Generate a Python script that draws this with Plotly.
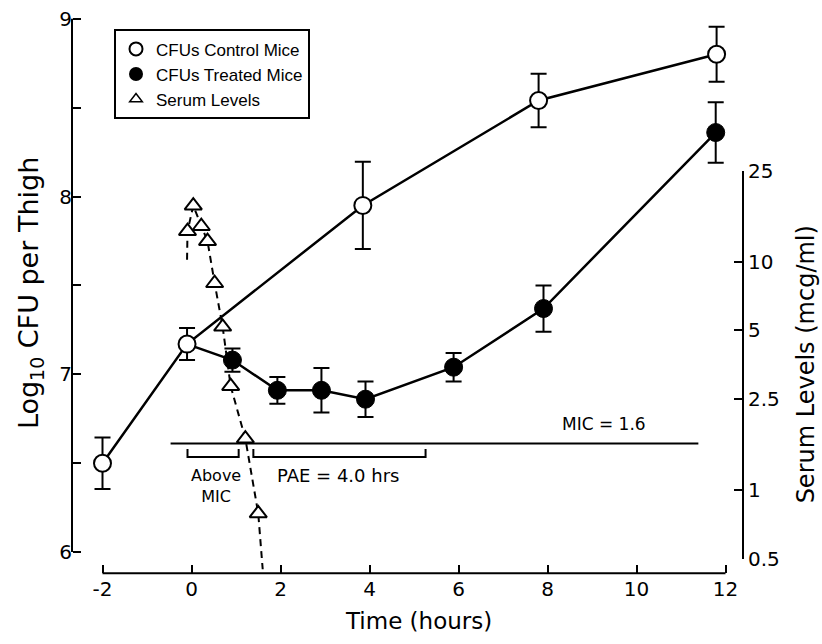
import math
import plotly.graph_objects as go

# ---------------- data ----------------
control_t = [-2, -0.1, 3.85, 7.8, 11.8]
control_cfu = [6.5, 7.17, 7.95, 8.54, 8.8]
control_err = [0.145, 0.09, 0.245, 0.15, 0.155]

# treated curve starts from the shared baseline point (t=-0.1)
treated_line_t = [-0.1, 0.92, 1.93, 2.92, 3.91, 5.89, 7.91, 11.78]
treated_line_cfu = [7.17, 7.08, 6.91, 6.91, 6.86, 7.04, 7.37, 8.36]
treated_t = [0.92, 1.93, 2.92, 3.91, 5.89, 7.91, 11.78]
treated_cfu = [7.08, 6.91, 6.91, 6.86, 7.04, 7.37, 8.36]
treated_err = [0.065, 0.075, 0.125, 0.1, 0.08, 0.13, 0.17]

serum_t = [-0.09, 0.04, 0.22, 0.36, 0.52, 0.70, 0.88, 1.21, 1.50]
serum_lvl = [13.6, 17.6, 14.3, 12.3, 8.05, 5.19, 2.85, 1.68, 0.79]
serum_fit_t = [-0.1, -0.09, 0.04, 0.22, 0.36, 0.52, 0.70, 0.88, 1.21, 1.50, 1.60]
serum_fit_lvl = [10.2, 13.6, 17.6, 14.3, 12.3, 8.05, 5.19, 2.85, 1.68, 0.79, 0.45]

mic_value = 1.6
mic_span_t = [-0.47, 11.39]
above_bracket_t = [-0.09, 1.06]
pae_bracket_t = [1.39, 5.26]
bracket_base = 6.535
bracket_tip = 6.58

x_ticks = [-2, 0, 2, 4, 6, 8, 10, 12]
x_tick_text = ["-2", "0", "2", "4", "6", "8", "10", "12"]
y_ticks = [6, 7, 8, 9]
y_tick_text = ["6", "7", "8", "9"]
y_minor_step = 0.5
serum_ticks = [0.5, 1, 2.5, 5, 10, 25]
serum_tick_text = ["0.5", "1", "2.5", "5", "10", "25"]

# ---------------- geometry (pixels) ----------------
W, H = 822, 644
X0PX, PXH = 191.5, 44.5            # pixel of t=0, pixels per hour
XR = [-2.6, 12.38]
Y9PX, Y6PX = 7.0, 561.0            # pixels of 9 and 6 on the left axis
PXU = (Y6PX - Y9PX) / 3.0
YR = [5.86, 9.035]
R_LO_PX, R_HI_PX = 568.0, 165.0    # right axis 0.5 .. 25
XAXIS_PX = 583.0
YAXIS_PX = 72.0
RAXIS_PX = 743.0

xdom = [(X0PX + PXH * XR[0]) / W, (X0PX + PXH * XR[1]) / W]
ybot_px = Y6PX - PXU * (YR[0] - 6)
ytop_px = Y6PX - PXU * (YR[1] - 6)
ydom = [1 - ybot_px / H, 1 - ytop_px / H]
lo, hi = math.log10(serum_ticks[0]), math.log10(serum_ticks[-1])
ppd = (R_LO_PX - R_HI_PX) / (hi - lo)
y2range = [lo - (ybot_px - R_LO_PX) / ppd, hi + (R_HI_PX - ytop_px) / ppd]

INK = "#000000"
FONT = "DejaVu Sans"

fig = go.Figure()

# treated line
fig.add_trace(go.Scatter(x=treated_line_t, y=treated_line_cfu, mode="lines",
                         line=dict(color=INK, width=2.5), showlegend=False, cliponaxis=False))
fig.add_trace(go.Scatter(x=treated_t, y=treated_cfu, mode="markers",
                         marker=dict(symbol="circle", size=18, color=INK, line=dict(color=INK, width=1)),
                         error_y=dict(type="data", array=treated_err, color=INK, thickness=2, width=8),
                         showlegend=False, cliponaxis=False))
# control
fig.add_trace(go.Scatter(x=control_t, y=control_cfu, mode="lines+markers",
                         line=dict(color=INK, width=2.5),
                         marker=dict(symbol="circle", size=17, color="white", line=dict(color=INK, width=2)),
                         error_y=dict(type="data", array=control_err, color=INK, thickness=2, width=8),
                         showlegend=False, cliponaxis=False))

# brackets and MIC line
for seg in (above_bracket_t, pae_bracket_t):
    fig.add_trace(go.Scatter(x=[seg[0], seg[0], seg[1], seg[1]],
                             y=[bracket_tip, bracket_base, bracket_base, bracket_tip],
                             mode="lines", line=dict(color=INK, width=2), showlegend=False,
                             hoverinfo="skip"))
fig.add_trace(go.Scatter(x=mic_span_t, y=[mic_value, mic_value], yaxis="y2", mode="lines",
                         line=dict(color=INK, width=2), showlegend=False, hoverinfo="skip"))

# serum
fig.add_trace(go.Scatter(x=serum_fit_t, y=serum_fit_lvl, yaxis="y2", mode="lines",
                         line=dict(color=INK, width=2, dash="7px,5px"), showlegend=False))
fig.add_trace(go.Scatter(x=serum_t, y=serum_lvl, yaxis="y2", mode="markers",
                         marker=dict(symbol="triangle-up", size=15, color="white",
                                     line=dict(color=INK, width=2)),
                         showlegend=False, cliponaxis=False))

# right axis carrier
fig.add_trace(go.Scatter(x=[None], y=[None], yaxis="y3", showlegend=False, hoverinfo="skip"))

# legend entries
fig.add_trace(go.Scatter(x=[None], y=[None], mode="markers", name="CFUs Control Mice",
                         marker=dict(symbol="circle", size=13, color="white", line=dict(color=INK, width=2))))
fig.add_trace(go.Scatter(x=[None], y=[None], mode="markers", name="CFUs Treated Mice",
                         marker=dict(symbol="circle", size=14, color=INK)))
fig.add_trace(go.Scatter(x=[None], y=[None], mode="markers", name="Serum Levels",
                         marker=dict(symbol="triangle-up", size=11, color="white", line=dict(color=INK, width=1.5))))

tickfont = dict(family=FONT, size=20, color=INK)
fig.update_layout(
    width=W, height=H, margin=dict(l=0, r=0, t=0, b=0),
    paper_bgcolor="white", plot_bgcolor="rgba(0,0,0,0)",
    font=dict(family=FONT, color=INK),
    xaxis=dict(domain=xdom, range=XR, anchor="free", position=1 - XAXIS_PX / H,
               tickvals=x_ticks, ticktext=x_tick_text, ticks="inside", ticklen=8, tickwidth=2,
               tickcolor=INK, showline=False, showgrid=False, zeroline=False, tickfont=tickfont,
               ticklabelstandoff=2),
    yaxis=dict(domain=ydom, range=YR, anchor="free", position=YAXIS_PX / W, side="left",
               tickvals=y_ticks, ticktext=y_tick_text, ticks="inside", ticklen=8, tickwidth=2,
               tickcolor=INK, showline=False, showgrid=False, zeroline=False, tickfont=tickfont,
               minor=dict(tick0=y_ticks[0], dtick=y_minor_step, ticks="inside", ticklen=8,
                          tickwidth=2, tickcolor=INK, showgrid=False)),
    yaxis2=dict(overlaying="y", type="log", range=y2range, visible=False, showgrid=False),
    yaxis3=dict(domain=[1 - R_LO_PX / H, 1 - R_HI_PX / H], type="log", range=[lo, hi],
                anchor="free", position=RAXIS_PX / W, side="right",
                tickvals=serum_ticks, ticktext=serum_tick_text, ticks="inside", ticklen=8,
                tickwidth=2, tickcolor=INK, showline=True, linewidth=2, linecolor=INK,
                showgrid=False, zeroline=False, tickfont=tickfont),
    legend=dict(x=114 / W, y=1 - 18 / H, xanchor="left", yanchor="top", bordercolor=INK,
                borderwidth=2, bgcolor="white",
                font=dict(family="Liberation Sans", size=17, color=INK),
                tracegroupgap=0),
    shapes=[
        dict(type="line", xref="x", yref="paper", x0=x_ticks[0], x1=x_ticks[-1],
             y0=1 - XAXIS_PX / H, y1=1 - XAXIS_PX / H, line=dict(color=INK, width=2)),
        dict(type="line", xref="paper", yref="y", x0=YAXIS_PX / W, x1=YAXIS_PX / W,
             y0=y_ticks[0], y1=y_ticks[-1], line=dict(color=INK, width=2)),
    ],
    annotations=[
        dict(text="Time (hours)", xref="paper", yref="paper", x=418 / W, y=1 - 633 / H,
             showarrow=False, font=dict(size=23), xanchor="center", yanchor="middle"),
        dict(text="Log<sub>10</sub> CFU per Thigh", xref="paper", yref="paper", x=30 / W,
             y=1 - 292 / H, showarrow=False, textangle=-90, font=dict(size=27),
             xanchor="center", yanchor="middle"),
        dict(text="Serum Levels (mcg/ml)", xref="paper", yref="paper", x=806 / W,
             y=1 - 366 / H, showarrow=False, textangle=-90, font=dict(size=24),
             xanchor="center", yanchor="middle"),
        dict(text="MIC = 1.6", x=9.26, y=6.72, xref="x", yref="y", showarrow=False,
             font=dict(size=17)),
        dict(text="PAE = 4.0 hrs", x=3.3, y=6.43, xref="x", yref="y", showarrow=False,
             font=dict(size=18)),
        dict(text="Above<br>MIC", x=0.56, y=6.37, xref="x", yref="y", showarrow=False,
             font=dict(size=16)),
    ],
)

fig.write_html("out.html")
